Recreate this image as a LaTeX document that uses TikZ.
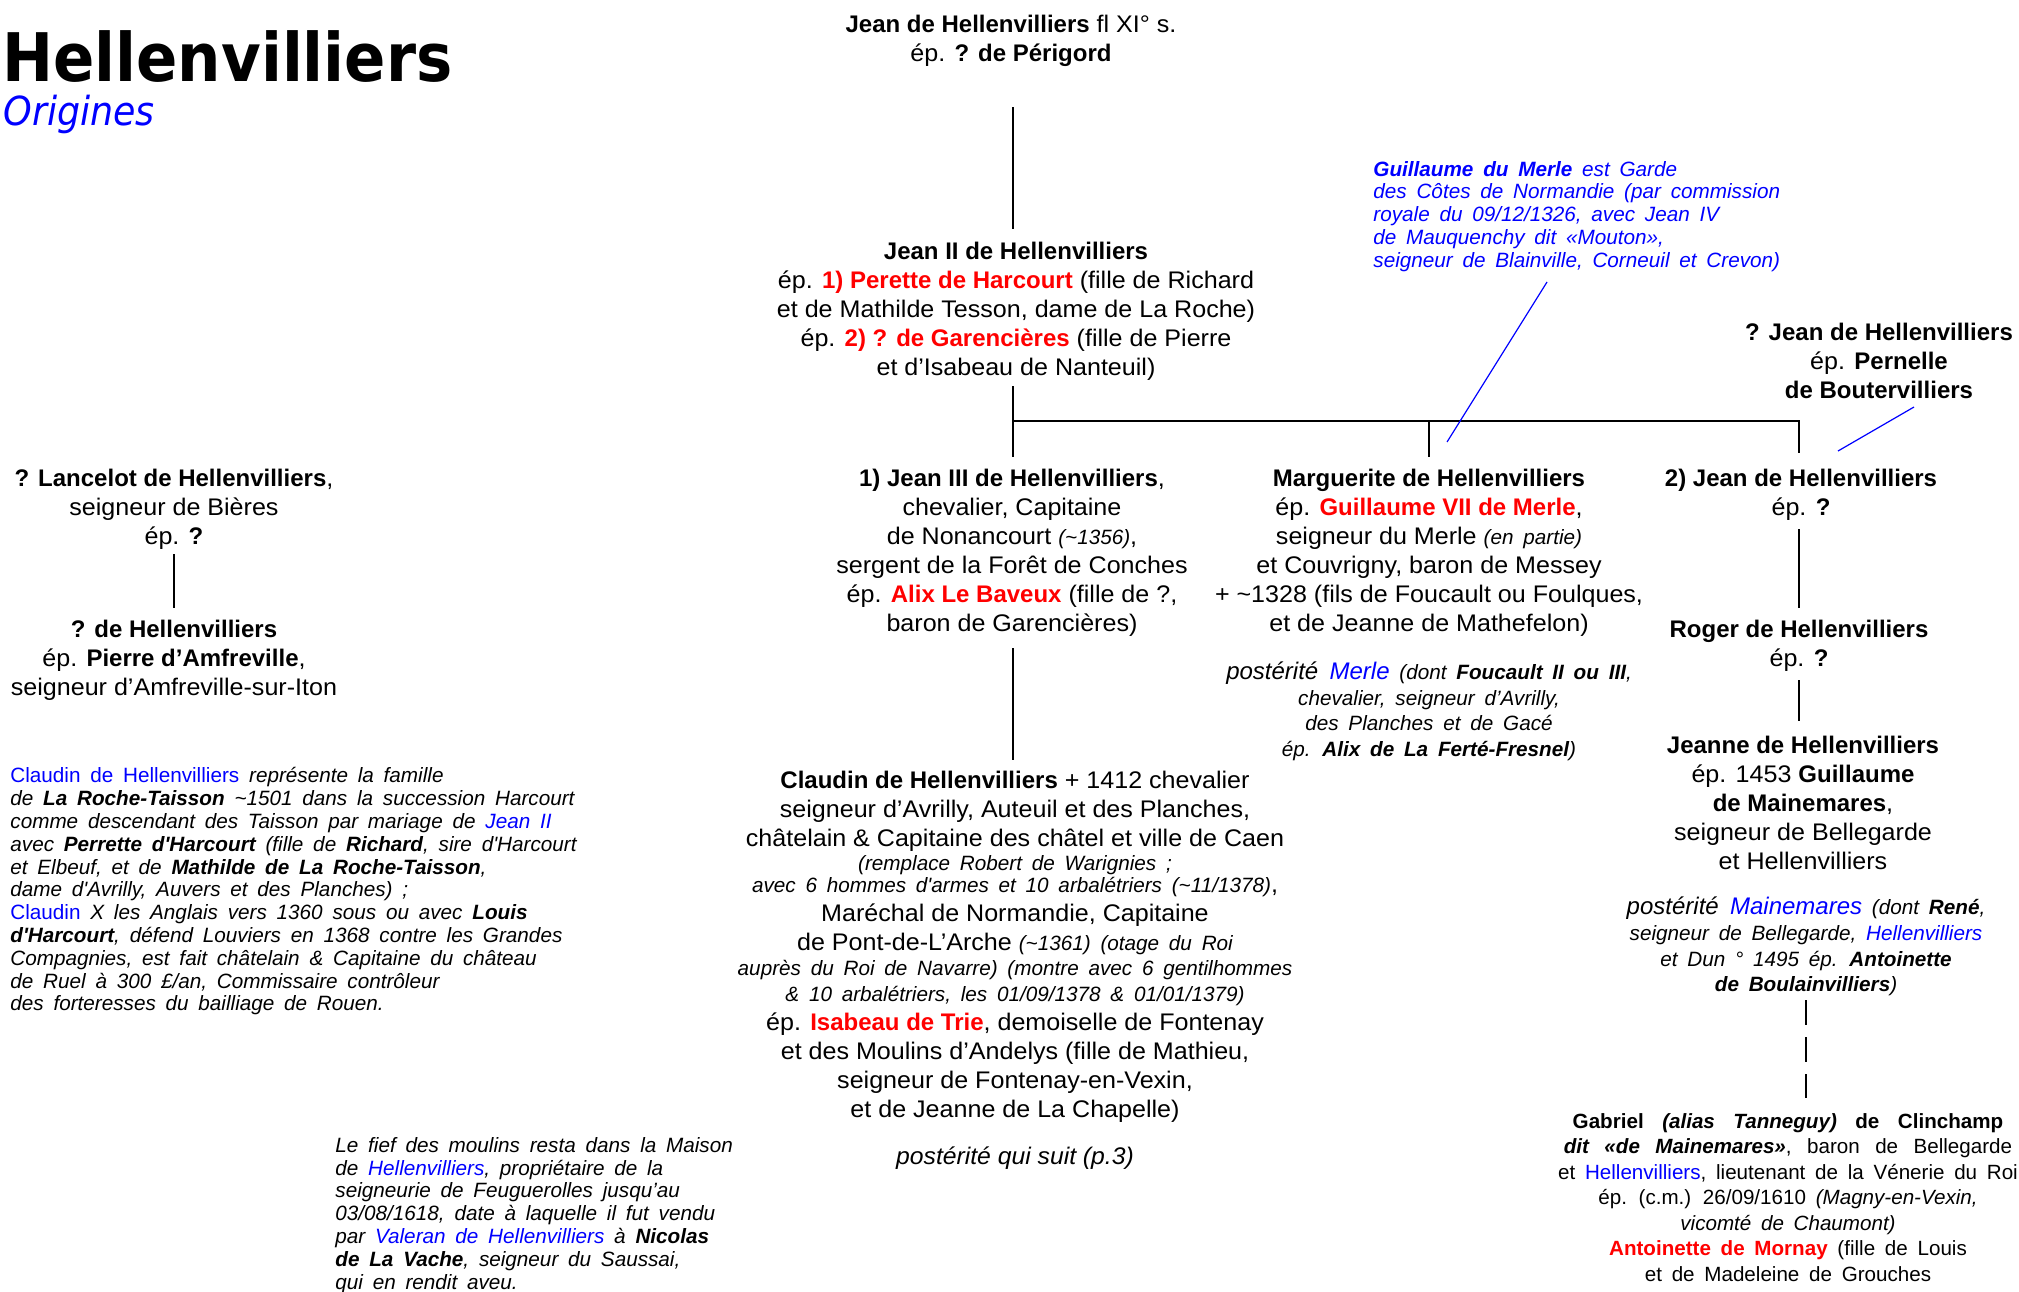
\documentclass[tikz,border=0pt]{standalone}
\usepackage{fontspec}
\usepackage{graphicx}
\setmainfont{Liberation Sans}[UprightFeatures={FakeStretch=1.045},ItalicFeatures={FakeStretch=1.03}]
\newfontfamily\notefont{Liberation Sans}[WordSpace=1.7]
\newfontfamily\titlefont{DejaVu Sans}[BoldFont={DejaVu Sans Bold},ItalicFont={DejaVu Sans Oblique}]
\definecolor{rd}{RGB}{255,0,0}
\definecolor{bl}{RGB}{0,0,255}
\newcommand\redb[1]{\textcolor{rd}{\bfseries #1}}
\newcommand\blu[1]{\textcolor{bl}{#1}}
\newcommand\mainsz{\fontsize{12}{14.5}\selectfont}
\newcommand\smit{\notefont\fontsize{10.35}{11.4}\selectfont\itshape}
\tikzset{
  person/.style={align=center, inner sep=0pt, yshift=-1.5pt, font=\mainsz},
  note/.style={align=left, inner sep=0pt, anchor=west, yshift=-1.2pt, font=\notefont\fontsize{10.35}{11.4}\selectfont\itshape},
  postblock/.style={align=center, inner sep=0pt, yshift=-1.2pt, font=\notefont\fontsize{10.35}{12.9}\selectfont\itshape},
  treeline/.style={line width=1.3pt},
  bluelink/.style={draw=bl, line width=0.6pt}
}
\begin{document}
\begin{tikzpicture}[x=0.5pt,y=-0.5pt]
\fill[white] (0,0) rectangle (2019,1291);
\useasboundingbox (0,0) rectangle (2019,1291);

% title
\node[anchor=base west, inner sep=0pt] (title) at (2,81) {\titlefont\fontsize{33.5}{40}\selectfont\bfseries\scalebox{0.91}[1]{Hellenvilliers}};
\node[anchor=base west, inner sep=0pt, text=bl] (subtitle) at (3,125) {\titlefont\fontsize{20}{24}\selectfont\itshape\scalebox{0.91}[1]{Origines}};

% central column
\node[person] (top) at (1011,38) {\textbf{Jean de Hellenvilliers} fl XI° s.\\ ép. \textbf{? de Périgord}};
\node[person] (j2) at (1016,308) {\textbf{Jean II de Hellenvilliers}\\
ép. \redb{1) Perette de Harcourt} (fille de Richard\\
et de Mathilde Tesson, dame de La Roche)\\
ép. \redb{2) ? de Garencières} (fille de Pierre\\
et d’Isabeau de Nanteuil)};

\node[note, text=bl] (gnote) at (1373,214) {\textbf{Guillaume du Merle} est Garde\\
des Côtes de Normandie (par commission\\
royale du 09/12/1326, avec Jean IV\\
de Mauquenchy dit «Mouton»,\\
seigneur de Blainville, Corneuil et Crevon)};

\node[person] (jq) at (1879,358) {\textbf{? Jean de Hellenvilliers}\\ ép. \textbf{Pernelle}\\ \textbf{de Boutervilliers}};

% left branch
\node[person] (lanc) at (174,506) {\textbf{? Lancelot de Hellenvilliers},\\ seigneur de Bières\\ ép. \textbf{?}};
\node[person] (qh) at (174,657) {\textbf{? de Hellenvilliers}\\ ép. \textbf{Pierre d’Amfreville},\\ seigneur d’Amfreville-sur-Iton};

\node[note] (cnote) at (10,889) {{\upshape\blu{Claudin de Hellenvilliers}} représente la famille\\
de \textbf{La Roche-Taisson} \textasciitilde1501 dans la succession Harcourt\\
comme descendant des Taisson par mariage de \blu{Jean II}\\
avec \textbf{Perrette d'Harcourt} (fille de \textbf{Richard}, sire d'Harcourt\\
et Elbeuf, et de \textbf{Mathilde de La Roche-Taisson},\\
dame d'Avrilly, Auvers et des Planches) ;\\
{\upshape\blu{Claudin}} X les Anglais vers 1360 sous ou avec \textbf{Louis}\\
\textbf{d'Harcourt}, défend Louviers en 1368 contre les Grandes\\
Compagnies, est fait châtelain \& Capitaine du château\\
de Ruel à 300 £/an, Commissaire contrôleur\\
des forteresses du bailliage de Rouen.};

% children of Jean II
\node[person] (j3) at (1012,550) {\textbf{1) Jean III de Hellenvilliers},\\
chevalier, Capitaine\\
de Nonancourt {\smit (\textasciitilde1356)},\\
sergent de la Forêt de Conches\\
ép. \redb{Alix Le Baveux} (fille de ?,\\
baron de Garencières)};

\node[person] (claudin) at (1015,944) {\textbf{Claudin de Hellenvilliers} + 1412 chevalier\\
seigneur d’Avrilly, Auteuil et des Planches,\\
châtelain \& Capitaine des châtel et ville de Caen\\[-2.9pt]
{\smit (remplace Robert de Warignies ;}\\[-3.5pt]
{\smit avec 6 hommes d'armes et 10 arbalétriers (\textasciitilde11/1378)},\\
Maréchal de Normandie, Capitaine\\
de Pont-de-L’Arche {\smit (\textasciitilde1361) (otage du Roi}\\[-1.6pt]
{\smit auprès du Roi de Navarre) (montre avec 6 gentilhommes}\\[-1.6pt]
{\smit \& 10 arbalétriers, les 01/09/1378 \& 01/01/1379)}\\
ép. \redb{Isabeau de Trie}, demoiselle de Fontenay\\
et des Moulins d’Andelys (fille de Mathieu,\\
seigneur de Fontenay-en-Vexin,\\
et de Jeanne de La Chapelle)};

\node[person, font=\mainsz\itshape] (suit) at (1015,1155) {postérité qui suit (p.3)};

\node[person] (marg) at (1429,550) {\textbf{Marguerite de Hellenvilliers}\\
ép. \redb{Guillaume VII de Merle},\\
seigneur du Merle {\smit (en partie)}\\
et Couvrigny, baron de Messey\\
+ \textasciitilde1328 (fils de Foucault ou Foulques,\\
et de Jeanne de Mathefelon)};

\node[postblock] (pmerle) at (1429,709) {{\fontsize{12}{12.9}\selectfont postérité \blu{Merle}} (dont \textbf{Foucault II ou III},\\
chevalier, seigneur d’Avrilly,\\
des Planches et de Gacé\\
ép. \textbf{Alix de La Ferté-Fresnel})};

% right branch
\node[person] (j2b) at (1801,492) {\textbf{2) Jean de Hellenvilliers}\\ ép. \textbf{?}};
\node[person] (roger) at (1799,643) {\textbf{Roger de Hellenvilliers}\\ ép. \textbf{?}};
\node[person] (jeanne) at (1803,800) {\textbf{Jeanne de Hellenvilliers}\\
ép. 1453 \textbf{Guillaume}\\
\textbf{de Mainemares},\\
seigneur de Bellegarde\\
et Hellenvilliers};

\node[postblock] (pmain) at (1806,944) {{\fontsize{12}{12.9}\selectfont postérité \blu{Mainemares}} (dont \textbf{René},\\
seigneur de Bellegarde, \blu{Hellenvilliers}\\
et Dun ° 1495 ép. \textbf{Antoinette}\\
\textbf{de Boulainvilliers})};

\node[align=center, inner sep=0pt, yshift=-1.2pt, font=\notefont\fontsize{10.3}{12.75}\selectfont] (gab) at (1788,1195) {{\spaceskip=0.9em\textbf{Gabriel \textit{(alias Tanneguy)} de Clinchamp}}\\
{\spaceskip=0.75em\textbf{\textit{dit «de Mainemares»}}, baron de Bellegarde}\\
et \blu{Hellenvilliers}, lieutenant de la Vénerie du Roi\\
ép. (c.m.) 26/09/1610 \textit{(Magny-en-Vexin,}\\
\textit{vicomté de Chaumont)}\\
\redb{Antoinette de Mornay} (fille de Louis\\
et de Madeleine de Grouches};

\node[note] (fief) at (335,1213) {Le fief des moulins resta dans la Maison\\
de \blu{Hellenvilliers}, propriétaire de la\\
seigneurie de Feuguerolles jusqu’au\\
03/08/1618, date à laquelle il fut vendu\\
par \blu{Valeran de Hellenvilliers} à \textbf{Nicolas}\\
\textbf{de La Vache}, seigneur du Saussai,\\
qui en rendit aveu.};

% connector points
\coordinate (topb) at (1013,107);
\coordinate (j2t) at (1013,229);
\coordinate (j2s) at (1013,386);
\coordinate (barL) at (1013,421);
\coordinate (barM) at (1429,421);
\coordinate (barR) at (1799,421);
\coordinate (j3t) at (1013,457);
\coordinate (margt) at (1429,457);
\coordinate (j2bt) at (1799,453);
\coordinate (j3s) at (1013,648);
\coordinate (claudt) at (1013,760);
\coordinate (lancs) at (174,554);
\coordinate (qht) at (174,608);
\coordinate (j2bs) at (1799,529);
\coordinate (rogert) at (1799,608);
\coordinate (rogers) at (1799,680);
\coordinate (jeannet) at (1799,721);
\coordinate (pmains) at (1806,1000);
\coordinate (gabt) at (1806,1098);
\coordinate (gn1) at (1547,282);
\coordinate (gn2) at (1447,442);
\coordinate (jq1) at (1914,407);
\coordinate (jq2) at (1838,451);

\draw[treeline] (topb) -- (j2t);
\draw[treeline] (j2s) -- (j3t);
\draw[treeline] (barL) -- (barR) -- (j2bt);
\draw[treeline] (barM) -- (margt);
\draw[treeline] (j3s) -- (claudt);
\draw[treeline] (lancs) -- (qht);
\draw[treeline] (j2bs) -- (rogert);
\draw[treeline] (rogers) -- (jeannet);
\draw[treeline, dash pattern=on 12.5pt off 6pt] (pmains) -- (gabt);
\draw[bluelink] (gn1) -- (gn2);
\draw[bluelink] (jq1) -- (jq2);
\end{tikzpicture}
\end{document}
